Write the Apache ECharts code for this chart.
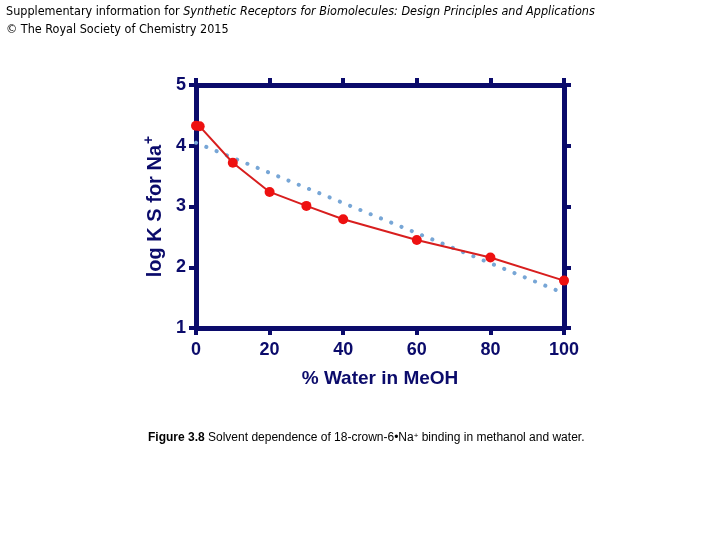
<!DOCTYPE html>
<html>
<head>
<meta charset="utf-8">
<script src="https://cdn.jsdelivr.net/npm/echarts@6/dist/echarts.min.js"></script>
<style>
  html, body { margin: 0; padding: 0; background: #fff; }
  #main { width: 720px; height: 540px; }
</style>
</head>
<body>
<div id="main"></div>
<script>
// 数据
var waterPct = [0, 1, 10, 20, 30, 40, 60, 80, 100];
var logKs = [4.33, 4.32, 3.72, 3.24, 3.01, 2.79, 2.45, 2.16, 1.78];
var trendX = [0, 98];
var trendY = [4.05, 1.62];
var xTicks = [0, 20, 40, 60, 80, 100];
var yTicks = [1, 2, 3, 4, 5];

var navy = '#0b0b6b';
var chart = echarts.init(document.getElementById('main'));

var frameAxis = {
  onZero: false,
  lineStyle: { color: navy, width: 5 }
};
var frameTick = { show: true, length: 7, lineStyle: { color: navy, width: 4 } };
var labelFont = { color: navy, fontFamily: 'Arial, Liberation Sans', fontWeight: 'bold', fontSize: 18 };

var option = {
  backgroundColor: '#fff',
  animation: false,
  grid: { left: 196, right: 156, top: 85, bottom: 212 },
  xAxis: [
    {
      type: 'value', min: 0, max: 100, interval: 20,
      axisLine: frameAxis,
      axisTick: frameTick,
      axisLabel: Object.assign({ margin: 13 }, labelFont),
      splitLine: { show: false },
      name: '% Water in MeOH', nameLocation: 'middle', nameGap: 41,
      nameTextStyle: { color: navy, fontFamily: 'Arial, Liberation Sans', fontWeight: 'bold', fontSize: 19 }
    },
    {
      type: 'value', min: 0, max: 100, interval: 20, position: 'top',
      axisLine: frameAxis,
      axisTick: frameTick,
      axisLabel: { show: false },
      splitLine: { show: false }
    }
  ],
  yAxis: [
    {
      type: 'value', min: 1, max: 5, interval: 1,
      axisLine: frameAxis,
      axisTick: frameTick,
      axisLabel: Object.assign({ margin: 10 }, labelFont),
      splitLine: { show: false },
      name: '{n|log K S for Na}{s|+}', nameLocation: 'middle', nameGap: 26, nameRotate: 90,
      nameTextStyle: {
        rich: {
          n: { color: navy, fontFamily: 'Arial, Liberation Sans', fontWeight: 'bold', fontSize: 20 },
          s: { color: navy, fontFamily: 'Arial, Liberation Sans', fontWeight: 'bold', fontSize: 14, verticalAlign: 'top', padding: [0, 0, 12, 1] }
        }
      }
    },
    {
      type: 'value', min: 1, max: 5, interval: 1, position: 'right',
      axisLine: frameAxis,
      axisTick: frameTick,
      axisLabel: { show: false },
      splitLine: { show: false }
    }
  ],
  series: [
    {
      type: 'line',
      data: trendX.map(function (x, i) { return [x, trendY[i]]; }),
      showSymbol: false,
      lineStyle: { color: '#77a6d6', width: 4, type: [0.1, 11], cap: 'round' },
      z: 1
    },
    {
      type: 'line',
      data: waterPct.map(function (x, i) { return [x, logKs[i]]; }),
      symbol: 'circle', symbolSize: 10,
      itemStyle: { color: '#ee1111' },
      lineStyle: { color: '#d81e1e', width: 2 },
      z: 3
    }
  ],
  graphic: [
    {
      type: 'text', left: 6, top: 5,
      style: {
        text: 'Supplementary information for {i|Synthetic Receptors for Biomolecules: Design Principles and Applications}',
        font: '12.5px "Liberation Sans Narrow", "DejaVu Sans Condensed", sans-serif', fill: '#000',
        rich: { i: { fontStyle: 'italic', fontFamily: '"Liberation Sans Narrow", "DejaVu Sans Condensed", sans-serif', fontSize: 12.5 } }
      }
    },
    {
      type: 'text', left: 6, top: 23,
      style: { text: '© The Royal Society of Chemistry 2015', font: '12.5px "Liberation Sans Narrow", "DejaVu Sans Condensed", sans-serif', fill: '#000' }
    },
    {
      type: 'text', left: 148, top: 432,
      style: {
        text: '{b|Figure 3.8} Solvent dependence of 18-crown-6•Na{s|+} binding in methanol and water.',
        font: '12px Arial, "Liberation Sans", sans-serif', fill: '#000',
        rich: {
          b: { fontWeight: 'bold', fontSize: 12, fontFamily: 'Arial, "Liberation Sans"' },
          s: { fontSize: 8, verticalAlign: 'top', fontFamily: 'Arial, "Liberation Sans"' }
        }
      }
    }
  ]
};

chart.setOption(option);
</script>
</body>
</html>
